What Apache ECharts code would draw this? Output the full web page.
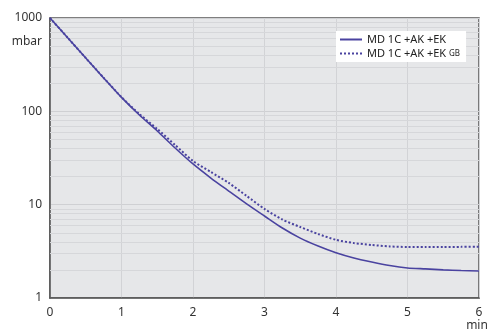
<!DOCTYPE html>
<html><head><meta charset="utf-8">
<script src="https://cdn.jsdelivr.net/npm/echarts@6/dist/echarts.min.js"></script>
<style>html,body{margin:0;padding:0;background:#fff}#c{width:500px;height:334px}</style>
</head><body><div id="c"></div>
<script>
var timeMin = [0, 0.25, 0.5, 0.75, 1, 1.25, 1.5, 1.75, 2, 2.25, 2.5, 2.75, 3, 3.25, 3.5, 3.75, 4, 4.25, 4.5, 4.75, 5, 5.25, 5.5, 5.75, 6];
var seriesSolid = [1000, 611, 373, 228, 141, 91.4, 61.6, 40.5, 27.3, 19.3, 14.0, 10.2, 7.56, 5.62, 4.38, 3.6, 3.05, 2.68, 2.43, 2.23, 2.10, 2.05, 2.0, 1.97, 1.95];
var seriesDotted = [1000, 611, 373, 229, 142, 93.5, 64.7, 43.6, 29.4, 22.4, 17.1, 12.4, 9.0, 6.93, 5.76, 4.85, 4.2, 3.88, 3.70, 3.57, 3.52, 3.52, 3.52, 3.53, 3.55];
var nameSolid = 'MD 1C +AK +EK';
var nameDotted = 'MD 1C +AK +EK GB';
var minorGrid = [2,3,4,5,6,7,8,9,20,30,40,50,60,70,80,90,200,300,400,500,600,700,800,900];

var lineColor = '#4a43a0';
var font = 'Noto Sans';
function pairs(ys){ return timeMin.map(function(x,i){return [x, ys[i]];}); }

var chart = echarts.init(document.getElementById('c'));
chart.setOption({
  animation: false,
  textStyle: {fontFamily: font},
  grid: {left: 50, right: 21, top: 18, bottom: 36, show: true,
         backgroundColor: '#e6e7e9', borderColor: '#555', borderWidth: 1.5},
  legend: {
    orient: 'vertical', left: 336, top: 31, backgroundColor: '#fff', z: 20,
    padding: [3, 6, 3, 3], itemWidth: 22, itemHeight: 10, itemGap: 3,
    itemStyle: {color: 'rgba(0,0,0,0)', borderWidth: 0, opacity: 0},
    textStyle: {fontSize: 11, color: '#222', fontFamily: font, rich: {s: {fontSize: 8, color: '#222'}}},
    formatter: function(n){ return n === nameDotted ? 'MD 1C +AK +EK {s|GB}' : n; },
    data: [nameSolid, nameDotted]
  },
  xAxis: {
    type: 'value', min: 0, max: 6, interval: 1,
    axisLine: {show: true, lineStyle: {color: '#555', width: 1.5}},
    axisTick: {show: false},
    axisLabel: {color: '#333', fontSize: 12, margin: 9},
    splitLine: {show: true, lineStyle: {color: '#d2d3d6', width: 1}},
    name: 'min', nameLocation: 'end', nameGap: -2,
    nameTextStyle: {color: '#333', fontSize: 12, align: 'center', verticalAlign: 'top', padding: [22, 0, 0, 0]}
  },
  yAxis: {
    type: 'log', logBase: 10, min: 1, max: 1000,
    axisLine: {show: true, lineStyle: {color: '#555', width: 1.5}},
    axisTick: {show: false},
    axisLabel: {color: '#333', fontSize: 12, margin: 8, formatter: function(v){ return String(v); }},
    splitLine: {show: true, lineStyle: {color: '#cfd0d3', width: 1}},
    name: 'mbar', nameLocation: 'end', nameGap: -18,
    nameTextStyle: {color: '#333', fontSize: 12, align: 'right', verticalAlign: 'top', padding: [0, 8, 0, 0]}
  },
  series: [
    {
      name: nameSolid, type: 'line', smooth: 0.25, showSymbol: false, symbol: 'none',
      data: pairs(seriesSolid),
      lineStyle: {color: lineColor, width: 1.6}, itemStyle: {color: lineColor},
      markLine: {
        silent: true, symbol: 'none', label: {show: false}, animation: false, z: 1,
        lineStyle: {color: '#d6d7da', width: 1, type: 'solid'},
        data: minorGrid.map(function(v){ return {yAxis: v}; })
      },
      z: 3
    },
    {
      name: nameDotted, type: 'line', smooth: 0.25, showSymbol: false, symbol: 'none',
      data: pairs(seriesDotted),
      lineStyle: {color: lineColor, width: 2, type: [2, 2]}, itemStyle: {color: lineColor},
      z: 4
    }
  ]
});
</script></body></html>
